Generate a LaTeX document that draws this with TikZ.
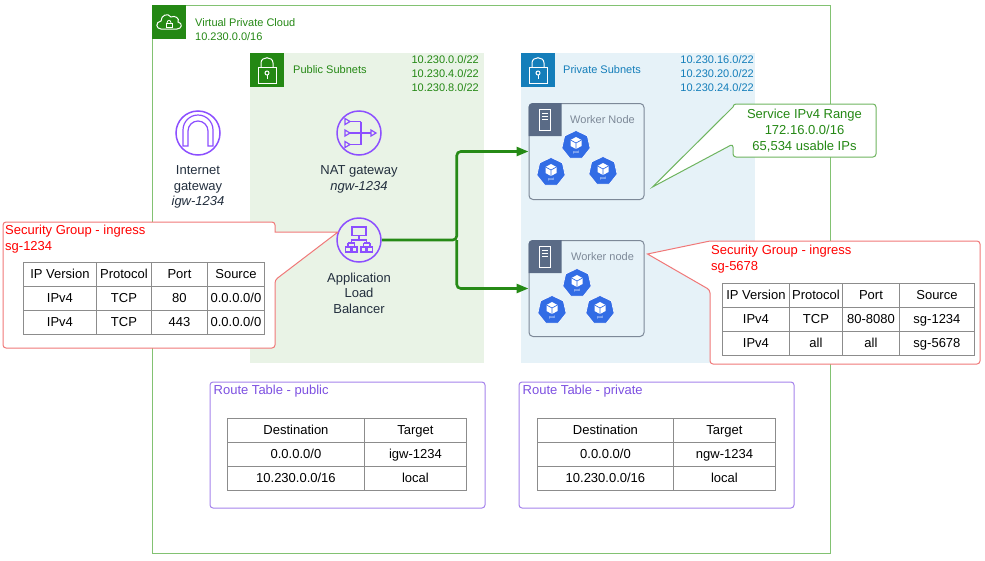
\documentclass[tikz,border=0pt]{standalone}
\usepackage{fontspec}
\setmainfont{Liberation Sans}
\usepackage{tikz}
\usetikzlibrary{arrows.meta,calc,positioning,shapes.geometric,matrix}
\definecolor{awsgreen}{RGB}{36,136,20}
\definecolor{vpcline}{RGB}{130,194,114}
\definecolor{publicfill}{RGB}{233,243,230}
\definecolor{privatefill}{RGB}{230,242,248}
\definecolor{awsblue}{RGB}{20,126,186}
\definecolor{awspurple}{RGB}{140,79,255}
\definecolor{routeline}{RGB}{165,130,235}
\definecolor{routetext}{RGB}{125,80,225}
\definecolor{sgline}{RGB}{240,120,120}
\definecolor{sgtext}{RGB}{255,0,0}
\definecolor{flowgreen}{RGB}{38,138,22}
\definecolor{calloutline}{RGB}{110,180,95}
\definecolor{gridgray}{RGB}{140,140,140}
\definecolor{workergray}{RGB}{125,137,152}
\definecolor{serverslate}{RGB}{90,107,134}
\definecolor{podblue}{RGB}{50,108,229}
\definecolor{labeldark}{RGB}{35,47,62}
\newdimen\rowdim
\newdimen\icondim
\rowdim=24pt
\icondim=34pt
\newcommand{\awsbig}{\fontsize{13}{15.5}\selectfont}
\newcommand{\awscall}{\fontsize{13}{16}\selectfont}
\newcommand{\awssmall}{\fontsize{11}{14}\selectfont}
\tikzstyle{groupbox}=[
  inner sep=0pt,
  outer sep=0pt,
  rectangle,
]
\tikzstyle{vpcbox}=[
  groupbox,
  draw=vpcline,
  line width=1pt,
]
\tikzstyle{groupicon}=[
  inner sep=0pt,
  minimum size=\icondim,
  outer sep=0pt,
  rectangle,
]
\tikzstyle{groupglyph}=[
  draw=white,
  line width=1pt,
]
\tikzstyle{grouplabel}=[
  align=left,
  anchor=west,
  font=\awssmall,
  inner sep=0pt,
]
\tikzstyle{cidr}=[
  align=right,
  anchor=east,
  font=\awssmall,
  inner sep=0pt,
]
\tikzstyle{resource}=[
  circle,
  draw=awspurple,
  inner sep=0pt,
  line width=1.5pt,
  minimum size=44pt,
]
\tikzstyle{resourceglyph}=[
  draw=awspurple,
  line width=1.2pt,
]
\tikzstyle{resourcelabel}=[
  align=center,
  anchor=north,
  font=\awsbig,
  inner sep=0pt,
  text=labeldark,
]
\tikzstyle{worker}=[
  draw=workergray,
  line width=1pt,
  minimum height=96pt,
  minimum width=115pt,
  rectangle,
  rounded corners=4pt,
]
\tikzstyle{workerlabel}=[
  font=\awssmall,
  inner sep=0pt,
  text=workergray,
]
\tikzstyle{pod}=[
  draw=white,
  fill=podblue,
  inner sep=0pt,
  line width=0.6pt,
  minimum size=29pt,
  regular polygon,
  regular polygon sides=7,
]
\tikzstyle{podlabel}=[
  font={\fontsize{3.5}{4}\selectfont},
  inner sep=0pt,
  text=white,
]
\tikzstyle{flow}=[
  draw=flowgreen,
  line width=2.6pt,
  rounded corners=4pt,
]
\tikzstyle{calloutbox}=[
  fill=white,
  line width=1pt,
]
\tikzstyle{calloutlabel}=[
  align=center,
  font=\awscall,
  inner sep=0pt,
]
\tikzstyle{tablecell}=[
  draw=gridgray,
  font=\awsbig,
  inner sep=0pt,
  line width=0.9pt,
  minimum height=\rowdim,
  outer sep=0pt,
  text depth=2pt,
  text height=11pt,
]
\tikzstyle{ruletable}=[
  anchor=north west,
  column sep=-0.9pt,
  inner sep=0pt,
  matrix of nodes,
  nodes={tablecell},
  outer sep=0pt,
  row sep=-0.9pt,
]
\tikzstyle{routebox}=[
  draw=routeline,
  line width=1pt,
  minimum height=126pt,
  minimum width=275pt,
  rectangle,
  rounded corners=3pt,
]
\tikzstyle{routetitle}=[
  anchor=west,
  font=\awsbig,
  inner sep=0pt,
  text=routetext,
]
\tikzset{
  >={Triangle[length=12pt,width=9pt]},
}
\begin{document}
\begin{tikzpicture}[x=1pt,y=-1pt]
  \useasboundingbox (0,0) rectangle (985,560);
  %% vpc and subnets
  \node (vpc) [vpcbox, minimum width=678, minimum height=548] at (491,279) {};
  \node (vpcicon) [groupicon, fill=awsgreen, anchor=north west] at (vpc.north west) {};
  \begin{scope}[shift={(vpcicon.center)}]
    \draw [groupglyph] (-8,7) .. controls (-13,7) and (-14,0) .. (-8,-1)
      .. controls (-8,-7) and (-1,-9.5) .. (2,-5)
      .. controls (6,-7) and (11,-3.5) .. (9,0)
      .. controls (14,1) and (13,7) .. (8,7) -- cycle;
    \draw [groupglyph, line width=0.8pt] (-3,1) rectangle (3,5);
    \draw [groupglyph, line width=0.8pt] (-2,1) .. controls (-2,-2.5) and (2,-2.5) .. (2,1);
  \end{scope}
  \node (vpclabel) [grouplabel, text=awsgreen] at ($(vpcicon.east)+(9,7.5)$) {Virtual Private Cloud\\10.230.0.0/16};
  %%
  \node (publicsubnet) [groupbox, fill=publicfill, minimum width=234, minimum height=310, anchor=north west] at (250,53) {};
  \node (publicicon) [groupicon, fill=awsgreen, anchor=north west] at (publicsubnet.north west) {};
  \node (privatesubnet) [groupbox, fill=privatefill, minimum width=234, minimum height=310, anchor=north west] at (521,53) {};
  \node (privateicon) [groupicon, fill=awsblue, anchor=north west] at (privatesubnet.north west) {};
  \foreach \icon in {publicicon, privateicon} {
    \begin{scope}[shift={(\icon.center)}]
      \draw [groupglyph] (-9,-3) rectangle (9,13);
      \draw [groupglyph] (-6,-3) -- (-6,-7) .. controls (-6,-14) and (6,-14) .. (6,-7) -- (6,-3);
      \draw [groupglyph] (0,3) circle [radius=2];
      \draw [groupglyph] (0,5) -- (0,9);
    \end{scope}
  }
  \node (publiclabel) [grouplabel, text=awsgreen] at ($(publicicon.east)+(9,0)$) {Public Subnets};
  \node (publiccidr) [cidr, text=awsgreen] at ($(publicsubnet.north east)+(-5,20.5)$) {10.230.0.0/22\\10.230.4.0/22\\10.230.8.0/22};
  \node (privatelabel) [grouplabel, text=awsblue] at ($(privateicon.east)+(8,0)$) {Private Subnets};
  \node (privatecidr) [cidr, text=awsblue] at ($(privatesubnet.north east)+(-1,21)$) {10.230.16.0/22\\10.230.20.0/22\\10.230.24.0/22};
  %% gateways and load balancer
  \node (internetgateway) [resource] at (198,133) {};
  \begin{scope}[shift={(internetgateway.center)}]
    \draw [resourceglyph] (-15,13) -- (-15,-3) arc [start angle=180, end angle=360, radius=15]
      -- (15,13) -- (10,13) -- (10,-2) arc [start angle=0, end angle=-180, radius=10]
      -- (-10,13) -- cycle;
  \end{scope}
  \node (igwlabel) [resourcelabel] at ($(internetgateway.south)+(0,10)$) {Internet\\gateway\\\textit{igw-1234}};
  %%
  \node (natgateway) [resource] at (359,133) {};
  \begin{scope}[shift={(natgateway.center)}]
    \foreach \y in {-11.5,0,11.5} {
      \draw [resourceglyph] (-14,\y-3) -- (-9,\y) -- (-14,\y+3) -- cycle;
      \draw [resourceglyph] (-9,\y) -- (2,\y);
    }
    \draw [resourceglyph] (2,-11.5) -- (2,11.5);
    \draw [resourceglyph] (2,0) -- (12,0);
    \draw [resourceglyph] (12,-3) -- (17,0) -- (12,3) -- cycle;
  \end{scope}
  \node (natlabel) [resourcelabel] at ($(natgateway.south)+(0,10)$) {NAT gateway\\\textit{ngw-1234}};
  %%
  \node (loadbalancer) [resource] at (359,240) {};
  \begin{scope}[shift={(loadbalancer.center)}]
    \draw [resourceglyph] (-7,-13) rectangle (7,-4.5);
    \draw [resourceglyph] (0,-4.5) -- (0,0) (-7.75,0) -- (7.75,0)
      (-7.75,0) -- (-7.75,3) (7.75,0) -- (7.75,3)
      (-11,3) -- (-4.5,3) (4.5,3) -- (11,3);
    \foreach \x in {-11,-4.5,4.5,11} {
      \draw [resourceglyph] (\x,3) -- (\x,7);
      \draw [resourceglyph] (\x-2.5,7) rectangle (\x+2.5,12);
    }
  \end{scope}
  \node (alblabel) [resourcelabel] at ($(loadbalancer.south)+(0,10)$) {Application\\Load\\Balancer};
  %% worker nodes
  \node (workernodea) [worker] at (586.5,151.5) {};
  \node (workernodeb) [worker] at (586.5,288.5) {};
  \foreach \w/\workertext in {workernodea/Worker Node, workernodeb/Worker node} {
    \begin{scope}[shift={(\w.north west)}]
      \fill [serverslate] (0,33) -- (0,4) .. controls (0,1.8) and (1.8,0) .. (4,0) -- (33,0) -- (33,33) -- cycle;
      \draw [groupglyph, line width=0.9pt] (11,6) rectangle (22,27);
      \draw [groupglyph, line width=0.9pt] (13.5,10) -- (19.5,10) (13.5,13) -- (19.5,13) (13.5,16) -- (19.5,16);
    \end{scope}
    \node [workerlabel] at ($(\w.north west)+(74,17)$) {\workertext};
  }
  \foreach \name/\x/\y in {poda1/576/145, poda2/551/172, poda3/603/171, podb1/577/283, podb2/552/310, podb3/600/310} {
    \node (\name) [pod] at (\x,\y) {};
    \begin{scope}[shift={(\name.center)}]
      \fill [white] (0,-8) -- (5.5,-5) -- (5.5,1) -- (0,4) -- (-5.5,1) -- (-5.5,-5) -- cycle;
      \draw [podblue, line width=0.7pt] (-5.5,-5) -- (0,-2) -- (5.5,-5) (0,-2) -- (0,4);
    \end{scope}
    \node [podlabel] at ($(\name.center)+(0,8)$) {pod};
  }
  %% traffic from the load balancer
  \draw [->, flow] (loadbalancer.east) -- ++(75,0) coordinate (split) |- (workernodea.west);
  \draw [->, flow] (split) |- (workernodeb.west);
  %% callouts
  \coordinate (servicetip) at ($(workernodea.south east)+(8,-13)$);
  \filldraw [calloutbox, draw=calloutline] (733,144) -- (servicetip) -- (733,107)
    [rounded corners=3pt] -- (733,104) -- (876,104) -- (876,157) -- (733,157) -- cycle;
  \node (servicerange) [calloutlabel, text=awsgreen] at (804.5,130.5) {Service IPv4 Range\\172.16.0.0/16\\65,534 usable IPs};
  %%
  \coordinate (sgpublictip) at ($(loadbalancer.center)+(-21,-8)$);
  \filldraw [calloutbox, draw=sgline] (275,280) -- (sgpublictip) -- (275,232)
    [rounded corners=3pt] -- (275,222) -- (3,222) -- (3,348) -- (275,348) -- cycle;
  \node (sgpubliclabel) [calloutlabel, align=left, anchor=west, text=sgtext] at (5,239.5) {Security Group - ingress\\sg-1234};
  \matrix (sgpublictable) [ruletable,
    column 1/.style={nodes={minimum width=73pt}},
    column 2/.style={nodes={minimum width=55pt}},
    column 3/.style={nodes={minimum width=56pt}},
    column 4/.style={nodes={minimum width=57pt}}] at (23,262) {
    IP Version & Protocol & Port & Source \\
    IPv4 & TCP & 80 & 0.0.0.0/0 \\
    IPv4 & TCP & 443 & 0.0.0.0/0 \\
  };
  %%
  \coordinate (sgprivatetip) at ($(workernodeb.north east)+(3,14)$);
  \filldraw [calloutbox, draw=sgline] (710,290) -- (sgprivatetip) -- (710,241)
    [rounded corners=3pt] -- (980,241) -- (980,364) -- (710,364) -- cycle;
  \node (sgprivatelabel) [calloutlabel, align=left, anchor=west, text=sgtext] at (711,259.5) {Security Group - ingress\\sg-5678};
  \matrix (sgprivatetable) [ruletable,
    column 1/.style={nodes={minimum width=67pt}},
    column 2/.style={nodes={minimum width=53pt}},
    column 3/.style={nodes={minimum width=57pt}},
    column 4/.style={nodes={minimum width=75pt}}] at (722,283) {
    IP Version & Protocol & Port & Source \\
    IPv4 & TCP & 80-8080 & sg-1234 \\
    IPv4 & all & all & sg-5678 \\
  };
  %% route tables
  \node (routepublic) [routebox] at (347.5,445) {};
  \node (routepublictitle) [routetitle] at ($(routepublic.north west)+(4,10)$) {Route Table - public};
  \matrix (routepublictable) [ruletable,
    column 1/.style={nodes={minimum width=137pt}},
    column 2/.style={nodes={minimum width=102pt}}] at (227,418) {
    Destination & Target \\
    0.0.0.0/0 & igw-1234 \\
    10.230.0.0/16 & local \\
  };
  \node (routeprivate) [routebox] at (656.5,445) {};
  \node (routeprivatetitle) [routetitle] at ($(routeprivate.north west)+(4,10)$) {Route Table - private};
  \matrix (routeprivatetable) [ruletable,
    column 1/.style={nodes={minimum width=136pt}},
    column 2/.style={nodes={minimum width=102pt}}] at (537,418) {
    Destination & Target \\
    0.0.0.0/0 & ngw-1234 \\
    10.230.0.0/16 & local \\
  };
\end{tikzpicture}
\end{document}
